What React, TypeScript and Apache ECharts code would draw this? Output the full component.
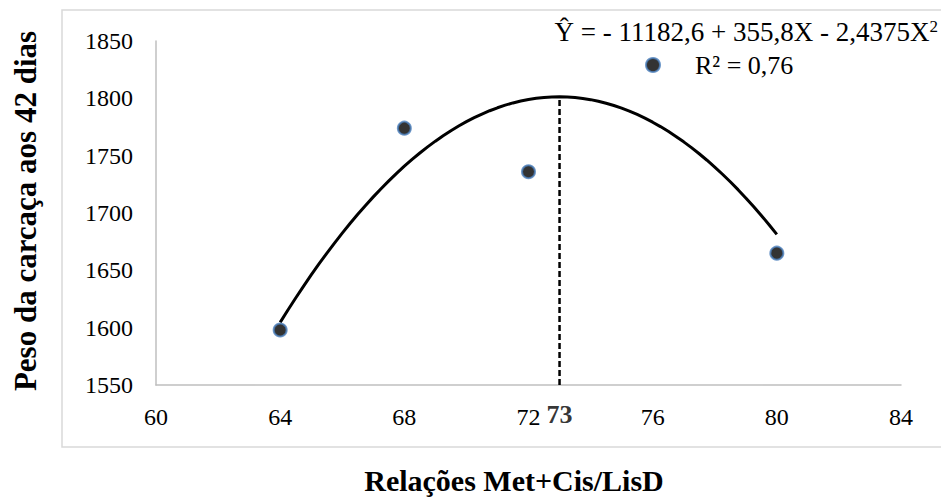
import React, { useEffect, useRef } from "react";
import * as echarts from "echarts";

const xObserved = [64, 68, 72, 80];
const yObserved = [1598, 1774, 1736, 1665];
const coefficients = [-11182.6, 355.8, -2.4375];
const curveRange = [64, 80];
const optimumX = 73;
const xTicks = { min: 60, max: 84, interval: 4 };
const yTicks = { min: 1550, max: 1850, interval: 50 };
const legendName = "R² = 0,76";
const yTitle = "Peso da carcaça aos 42 dias";
const xTitle = "Relações Met+Cis/LisD";

const FONT = "'Liberation Serif', 'Times New Roman', serif";

function predict(x: number) {
  return coefficients[0] + coefficients[1] * x + coefficients[2] * x * x;
}

export default function App() {
  const ref = useRef<HTMLDivElement>(null);
  useEffect(() => {
    if (!ref.current) return;
    const chart = echarts.init(ref.current, undefined, { renderer: "svg" });
    const curve: number[][] = [];
    for (let x = curveRange[0]; x <= curveRange[1] + 1e-9; x += 0.25) {
      curve.push([x, predict(x)]);
    }
    chart.setOption({
      animation: false,
      backgroundColor: "#ffffff",
      textStyle: { fontFamily: FONT },
      grid: { left: 156, right: 40, top: 41, bottom: 114, containLabel: false },
      legend: {
        data: [{ name: legendName, icon: "circle" }],
        left: 640,
        top: 47,
        itemWidth: 14,
        itemHeight: 14,
        textStyle: { fontFamily: FONT, fontSize: 26, color: "#000", padding: [0, 0, 0, 30] },
      },
      xAxis: {
        type: "value",
        min: xTicks.min,
        max: xTicks.max,
        interval: xTicks.interval,
        axisLine: { lineStyle: { color: "#bfbfbf", width: 1.5 } },
        axisTick: { show: false },
        splitLine: { show: false },
        axisLabel: { color: "#000", fontSize: 24, fontFamily: FONT, margin: 20 },
      },
      yAxis: {
        type: "value",
        min: yTicks.min,
        max: yTicks.max,
        interval: yTicks.interval,
        axisLine: { show: true, lineStyle: { color: "#bfbfbf", width: 1.5 } },
        axisTick: { show: false },
        splitLine: { show: false },
        axisLabel: {
          color: "#000",
          fontSize: 24,
          fontFamily: FONT,
          margin: 23,
          formatter: (v: number) => String(v),
        },
      },
      graphic: [
        {
          type: "rect",
          shape: { x: 62, y: 10, width: 890, height: 437 },
          style: { fill: "none", stroke: "#d9d9d9", lineWidth: 1.5 },
          silent: true,
        },
        {
          type: "text",
          x: 938,
          y: 32,
          style: {
            text: "{a|Ŷ = - 11182,6 + 355,8X - 2,4375X}{s|2}",
            align: "right",
            verticalAlign: "middle",
            rich: {
              a: { fontFamily: FONT, fontSize: 27, fill: "#000" },
              s: { fontFamily: FONT, fontSize: 17, fill: "#000", verticalAlign: "top", padding: [0, 0, 12, 0] },
            },
          },
        },
        {
          type: "text",
          x: 25,
          y: 211,
          rotation: Math.PI / 2,
          style: {
            text: yTitle,
            align: "center",
            verticalAlign: "middle",
            font: `bold 31px ${FONT}`,
            fill: "#000",
          },
        },
        {
          type: "text",
          x: 514,
          y: 480,
          style: {
            text: xTitle,
            align: "center",
            verticalAlign: "middle",
            font: `bold 30px ${FONT}`,
            fill: "#000",
          },
        },
      ],
      series: [
        {
          type: "line",
          name: "curve",
          data: curve,
          showSymbol: false,
          symbol: "none",
          smooth: false,
          lineStyle: { color: "#000", width: 3 },
          z: 2,
        },
        {
          type: "line",
          name: "optimum",
          data: [
            [optimumX, yTicks.min],
            [optimumX, predict(optimumX)],
          ],
          symbol: "none",
          lineStyle: { color: "#000", width: 2.5, type: [6, 3] },
          z: 1,
        },
        {
          type: "scatter",
          name: "optimumLabel",
          data: [[optimumX, yTicks.min]],
          symbolSize: 0,
          label: {
            show: true,
            position: "bottom",
            distance: 16,
            formatter: String(optimumX),
            fontFamily: FONT,
            fontWeight: "bold",
            fontSize: 26,
            color: "#000",
          },
          z: 1,
        },
        {
          type: "scatter",
          name: legendName,
          data: xObserved.map((x, i) => [x, yObserved[i]]),
          symbol: "circle",
          symbolSize: 13,
          itemStyle: { color: "#000", borderColor: "#4a7ebb", borderWidth: 2 },
          z: 5,
        },
      ],
    });
    return () => chart.dispose();
  }, []);
  return (
    <div
      ref={ref}
      style={{ position: "fixed", left: 0, top: 0, width: 941, height: 499 }}
    />
  );
}
